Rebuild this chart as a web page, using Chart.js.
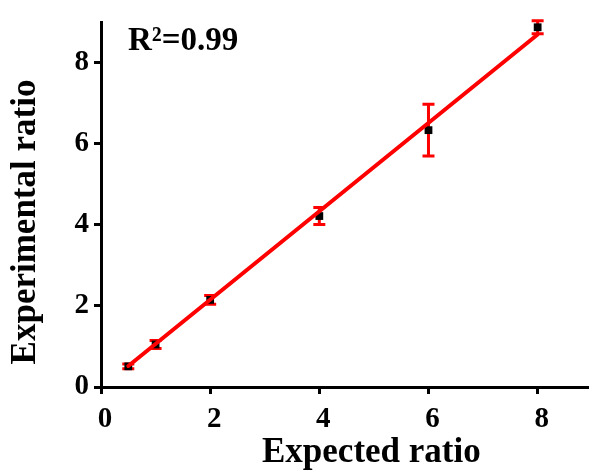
<!doctype html>
<html>
<head>
    <meta charset="UTF-8">
    <script src="https://cdn.jsdelivr.net/npm/chart.js"></script>
    <style>
        body { margin: 0; background: #fff; overflow: hidden; }
    </style>
</head>
<body>
    <canvas id="ratio_chart" width="595" height="473"></canvas>

<script>
    // data
    const expected = [0.5, 1, 2, 4, 6, 8];
    const measured = [0.51, 1.05, 2.15, 4.22, 6.34, 8.88];
    const errors = [0.06, 0.10, 0.11, 0.21, 0.64, 0.16];
    const fitX = [0.5, 8];
    const fitY = [0.52, 8.70];
    const rSquared = 'R\u00b2=0.99';
    const xTitle = 'Expected ratio';
    const yTitle = 'Experimental ratio';

    const serif = '"Liberation Serif", "Times New Roman", serif';
    Chart.defaults.font.family = serif;
    Chart.defaults.font.weight = 'bold';
    Chart.defaults.color = '#000';

    // red error bars, drawn under the points
    const errorBars = {
        id: 'errorBars',
        beforeDatasetsDraw(chart) {
            const ctx = chart.ctx;
            const xs = chart.scales.x, ys = chart.scales.y;
            ctx.save();
            ctx.strokeStyle = '#ff0000';
            ctx.lineWidth = 3;
            for (let i = 0; i < expected.length; i++) {
                const px = xs.getPixelForValue(expected[i]);
                const top = ys.getPixelForValue(measured[i] + errors[i]);
                const bot = ys.getPixelForValue(measured[i] - errors[i]);
                ctx.beginPath();
                ctx.moveTo(px, top); ctx.lineTo(px, bot);
                ctx.moveTo(px - 6, top); ctx.lineTo(px + 6, top);
                ctx.moveTo(px - 6, bot); ctx.lineTo(px + 6, bot);
                ctx.stroke();
            }
            ctx.restore();
        }
    };

    // axis titles and the R² note
    const labels = {
        id: 'labels',
        afterDraw(chart) {
            const ctx = chart.ctx;
            ctx.save();
            ctx.fillStyle = '#000';
            ctx.font = 'bold 33px ' + serif;
            ctx.textAlign = 'left';
            ctx.textBaseline = 'alphabetic';
            ctx.fillText(rSquared, 128, 50);

            ctx.font = 'bold 35px ' + serif;
            ctx.fillText(xTitle, 262, 462);

            ctx.translate(35, 222);
            ctx.rotate(-Math.PI / 2);
            ctx.textAlign = 'center';
            ctx.fillText(yTitle, 0, 0);
            ctx.restore();
        }
    };

    const axisStyle = {
        border: { display: true, color: '#000', width: 3 },
        grid: { display: true, drawOnChartArea: false, drawTicks: true, tickLength: 7, tickWidth: 3, tickColor: '#000' }
    };

    new Chart(document.getElementById('ratio_chart'), {
        type: 'scatter',
        data: {
            datasets: [
                {
                    type: 'line',
                    data: fitX.map((x, i) => ({ x: x, y: fitY[i] })),
                    borderColor: '#ff0000',
                    borderWidth: 4,
                    borderCapStyle: 'round',
                    pointRadius: 0,
                    fill: false,
                    clip: false,
                    order: 1
                },
                {
                    data: expected.map((x, i) => ({ x: x, y: measured[i] })),
                    pointStyle: 'rect',
                    pointRadius: 5.5,
                    backgroundColor: '#000',
                    borderColor: '#000',
                    borderWidth: 0,
                    clip: false,
                    order: 2
                }
            ]
        },
        options: {
            responsive: false,
            animation: false,
            layout: { padding: { top: 17, right: 0, left: 0, bottom: 0 } },
            plugins: {
                legend: { display: false },
                tooltip: { enabled: false }
            },
            scales: {
                x: {
                    type: 'linear',
                    min: 0,
                    max: 8.95,
                    ...axisStyle,
                    ticks: { stepSize: 2, includeBounds: false, padding: 8, labelOffset: 4, font: { size: 29, weight: 'bold' } },
                    afterFit(scale) { scale.height = 86; }
                },
                y: {
                    min: 0,
                    max: 9,
                    ...axisStyle,
                    ticks: { stepSize: 2, includeBounds: false, padding: 5, font: { size: 29, weight: 'bold' } },
                    afterFit(scale) { scale.width = 101; }
                }
            }
        },
        plugins: [errorBars, labels]
    });
</script>
</body>
</html>
